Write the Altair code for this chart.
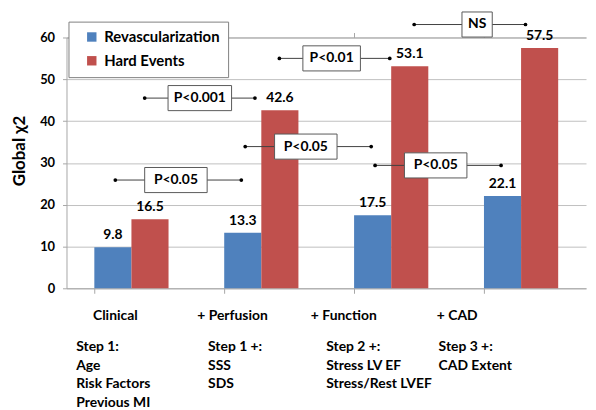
import altair as alt
import pandas as pd

FONT = "Lato"

# ---- chart values ----
categories = ["Clinical", "+ Perfusion", "+ Function", "+ CAD"]
series = ["Revascularization", "Hard Events"]
revasc = [9.8, 13.3, 17.5, 22.1]
hard = [16.5, 42.6, 53.1, 57.5]
colors = ["#4F81BD", "#C0504D"]
y_ticks = [0, 10, 20, 30, 40, 50, 60]

# step descriptions under each category
steps = [
    "Step 1:\nAge\nRisk Factors\nPrevious MI",
    "Step 1 +:\nSSS\nSDS",
    "Step 2 +:\nStress LV EF\nStress/Rest LVEF",
    "Step 3 +:\nCAD Extent",
]
# anchors (in category units, 0..4) of the texts below the axis
cat_label_anchor = [0.376, 1.278, 2.135, 3.008]
step_anchor = [0.075, 1.090, 2.000, 2.865]

# significance brackets (x in category units, y in chi2 units)
p_labels = ["P<0.05", "P<0.001", "P<0.05", "P<0.01", "P<0.05", "NS"]
p_x1 = [0.376, 0.602, 1.376, 1.639, 2.376, 2.677]
p_x2 = [1.346, 1.451, 2.346, 2.489, 3.346, 3.534]
p_y = [25.9, 45.5, 33.9, 55.0, 29.4, 63.1]
box_x1 = [0.602, 0.782, 1.602, 1.820, 2.602, 3.045]
box_x2 = [1.083, 1.271, 2.083, 2.263, 3.083, 3.278]
box_half = 3.0

bars = pd.DataFrame(
    [{"category": c, "series": series[0], "value": v} for c, v in zip(categories, revasc)]
    + [{"category": c, "series": series[1], "value": v} for c, v in zip(categories, hard)]
)
brackets = pd.DataFrame({
    "label": p_labels, "x1": p_x1, "x2": p_x2, "y": p_y,
    "bx1": box_x1, "bx2": box_x2,
})
brackets["by1"] = brackets["y"] - box_half
brackets["by2"] = brackets["y"] + box_half
below = pd.DataFrame({
    "category": categories, "cx": cat_label_anchor,
    "steps": steps, "sx": step_anchor,
})

yscale = alt.Scale(domain=[0, 60], nice=False, zero=True)
xq = alt.Scale(domain=[0, 4], nice=False, zero=False)

base = alt.Chart(bars).encode(
    x=alt.X("category:N", sort=categories,
            scale=alt.Scale(paddingInner=0.4286, paddingOuter=0.2143),
            axis=alt.Axis(title=None, labels=False, bandPosition=0, ticks=True,
                          tickSize=5, tickColor="#A6A6A6", domainColor="#A6A6A6",
                          grid=False)),
    xOffset=alt.XOffset("series:N", sort=series,
                        scale=alt.Scale(paddingInner=0, paddingOuter=0)),
    y=alt.Y("value:Q", scale=yscale,
            axis=alt.Axis(values=y_ticks, title="Global χ2", grid=True,
                          gridColor="#BFBFBF", domainColor="#A6A6A6",
                          tickColor="#A6A6A6", tickSize=4, labelPadding=8,
                          labelFont=FONT, labelFontSize=13, labelFontWeight="bold",
                          labelColor="#000000", titleFont=FONT, titleFontSize=17,
                          titleFontWeight="bold", titleColor="#000000",
                          titleAngle=270, titleAlign="center", titleBaseline="middle",
                          titleX=-47, titleY=114)),
)

bar_layer = base.mark_bar().encode(
    color=alt.Color("series:N", sort=series,
                    scale=alt.Scale(domain=series, range=colors),
                    legend=alt.Legend(orient="none", legendX=2, legendY=-16,
                                      title=None, symbolType="square",
                                      symbolSize=90, symbolStrokeWidth=0,
                                      symbolOffset=8,
                                      labelFont=FONT, labelFontSize=15,
                                      labelFontWeight="bold", labelColor="#000000",
                                      fillColor="white", strokeColor="#7F7F7F",
                                      padding=8, rowPadding=8,
                                      labelOffset=5, offset=0)),
)
value_labels = base.mark_text(dy=-12, baseline="middle", font=FONT, fontSize=14,
                              fontWeight="bold", color="#000000").encode(
    text=alt.Text("value:Q", format=".1f"))

ann = alt.Chart(brackets)
rules = ann.mark_rule(color="#404040", strokeWidth=1).encode(
    x=alt.X("x1:Q", scale=xq, axis=None), x2="x2:Q",
    y=alt.Y("y:Q", scale=yscale))
dots = ann.transform_fold(["x1", "x2"], as_=["end", "xpos"]).mark_point(
    filled=True, shape="circle", size=14, color="#000000", opacity=1).encode(
    x=alt.X("xpos:Q", scale=xq, axis=None), y=alt.Y("y:Q", scale=yscale))
boxes = ann.mark_rect(fill="white", stroke="#595959", strokeWidth=1).encode(
    x=alt.X("bx1:Q", scale=xq, axis=None), x2="bx2:Q",
    y=alt.Y("by1:Q", scale=yscale), y2="by2:Q")
box_text = ann.transform_calculate(bx="(datum.bx1 + datum.bx2) / 2").mark_text(
    font=FONT, fontSize=14, fontWeight="bold", color="#000000",
    baseline="middle", align="center").encode(
    x=alt.X("bx:Q", scale=xq, axis=None), y=alt.Y("y:Q", scale=yscale),
    text="label:N")

cat_text = alt.Chart(below).mark_text(
    font=FONT, fontSize=14, fontWeight="bold", color="#000000",
    align="center", baseline="middle").encode(
    x=alt.X("cx:Q", scale=xq, axis=None), y=alt.value(281), text="category:N")
step_text = alt.Chart(below).mark_text(
    font=FONT, fontSize=14, fontWeight="bold", color="#000000",
    align="left", baseline="middle", lineBreak="\n", lineHeight=19).encode(
    x=alt.X("sx:Q", scale=xq, axis=None), y=alt.value(312), text="steps:N")

chart = alt.layer(bar_layer, value_labels, rules, dots, boxes, box_text,
                  cat_text, step_text).resolve_scale(x="independent").properties(
    width=524, height=253,
    autosize=alt.AutoSizeParams(type="none"),
    padding={"left": 59, "top": 28, "right": 2, "bottom": 121},
).configure_view(stroke=None)

chart.save("out.html", embed_options={"renderer": "svg", "actions": False})
